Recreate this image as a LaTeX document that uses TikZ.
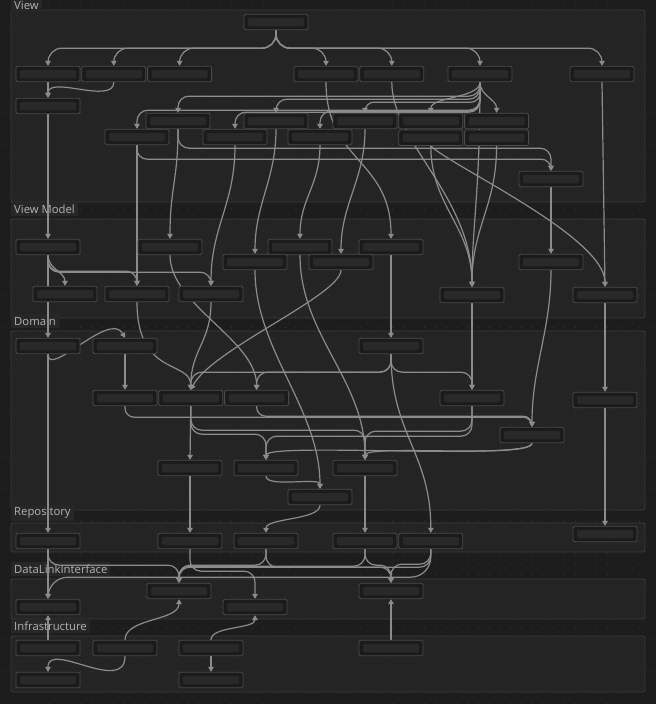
\documentclass[tikz,border=0pt]{standalone}
\usepackage{fontspec}
\newfontfamily\layerfont{Open Sans}
\usetikzlibrary{positioning, arrows.meta}

\definecolor{canvasbg}{HTML}{1D1D1D}
\definecolor{layerfill}{HTML}{242424}
\definecolor{layeredge}{HTML}{3C3C3C}
\definecolor{griddot}{HTML}{363636}
\definecolor{boxfill}{HTML}{1B1B1B}
\definecolor{boxedge}{HTML}{4A4A4A}
\definecolor{boxinner}{HTML}{292929}
\definecolor{linkgray}{HTML}{8C8C8C}
\definecolor{titlegray}{HTML}{B4B4B4}
\definecolor{titlefill}{HTML}{272727}

\pgfdeclarelayer{bg}
\pgfdeclarelayer{links}
\pgfsetlayers{bg,links,main}

\tikzset{
    >={Triangle[length=5pt,width=5.5pt]}, % small filled arrow heads
    box/.style={rectangle, draw=boxedge, fill=boxfill, line width=0.8pt, rounded corners=1.5pt,
        minimum width=64pt, minimum height=15.5pt, inner sep=0pt,
        path picture={\fill[boxinner] ([xshift=4pt,yshift=-3.5pt]path picture bounding box.north west)
            rectangle ([xshift=-4pt,yshift=3.5pt]path picture bounding box.south east);}}, % the blank class boxes
    layer/.style={fill=layerfill, draw=layeredge, line width=0.8pt, rounded corners=2pt}, % one panel per layer
    layer title/.style={anchor=west, fill=titlefill, text=titlegray, inner xsep=3pt, inner ysep=2.5pt,
        font=\layerfont\fontsize{11.3}{13}\selectfont},
    every edge/.style={draw=linkgray, line width=1.2pt, ->, rounded corners=11pt}, % all dependencies
    link/.style={draw=linkgray, line width=1.2pt, ->},
    bus/.style={to path={-- ++(0,#1) -| (\tikztotarget)}}, % down, across, down
    sbend/.style={to path={.. controls +(0,#1) and +(0,-#1) .. (\tikztotarget)}},
    upbend/.style={to path={.. controls +(0,-#1) and +(0,#1) .. (\tikztotarget)}},
    twobend/.style 2 args={to path={.. controls +(0,#1) and +(0,-#2) .. (\tikztotarget)}},
}

\begin{document}
\begin{tikzpicture}[x=1pt, y=-1pt]
    \useasboundingbox (0,0) rectangle (656,704);
    \begin{pgfonlayer}{bg}
        \fill[canvasbg] (0,0) rectangle (656,704);
        \foreach \ytop/\ybot in {10/202, 219/318, 331/510, 523/552, 579/619, 636/692}
            \draw[layer] (11,\ytop) rectangle (645,\ybot);
        \foreach \gx in {5.5,16.25,...,656}
            \foreach \gy in {5,15.75,...,704}
                \fill[griddot] (\gx,\gy) circle (0.65pt);
        \node[layer title] (tView) at (11,5) {View};
        \node[layer title] (tModel) at (11,209) {View Model};
        \node[layer title] (tDomain) at (11,321) {Domain};
        \node[layer title] (tRepo) at (11,513) {Repository};
        \node[layer title] (tLink) at (11,569) {DataLinkInterface};
        \node[layer title] (tInfra) at (11,626) {Infrastructure};
    \end{pgfonlayer}

    % View
    \node[box] (v0) at (276,22) {};
    \node[box] (v1) at (48,74) {};
    \node[box, right=1pt of v1] (v2) {};
    \node[box, right=1pt of v2] (v3) {};
    \node[box] (v4) at (326,74) {};
    \node[box, right=1pt of v4] (v5) {};
    \node[box] (v6) at (480,74) {};
    \node[box] (v7) at (602,74) {};
    \node[box] (v8) at (48,106) {};
    \node[box] (v9) at (178,121) {};
    \node[box] (v10) at (276,121) {};
    \node[box] (v11) at (365,121) {};
    \node[box, right=1pt of v11] (v12) {};
    \node[box, right=1pt of v12] (v13) {};
    \node[box] (v14) at (137,137) {};
    \node[box] (v15) at (235,137) {};
    \node[box] (v16) at (320,137) {};
    \node[box, below=0.5pt of v12] (v17) {};
    \node[box, right=1pt of v17] (v18) {};
    \node[box] (v19) at (551,179) {};

    % View Model
    \node[box] (m0) at (48,247) {};
    \node[box] (m1) at (170,247) {};
    \node[box] (m2) at (300,247) {};
    \node[box] (m3) at (391,247) {};
    \node[box] (m4) at (255,262) {};
    \node[box] (m5) at (341,262) {};
    \node[box] (m6) at (551,262) {};
    \node[box] (m7) at (65,294) {};
    \node[box] (m8) at (137,294) {};
    \node[box] (m9) at (211,294) {};
    \node[box] (m10) at (472,295) {};
    \node[box] (m11) at (605,295) {};

    % Domain
    \node[box] (d0) at (48,346) {};
    \node[box] (d1) at (125,346) {};
    \node[box] (d2) at (391,346) {};
    \node[box] (d3) at (125,398) {};
    \node[box, right=1pt of d3] (d4) {};
    \node[box, right=1pt of d4] (d5) {};
    \node[box] (d6) at (472,398) {};
    \node[box] (d7) at (605,400) {};
    \node[box] (d8) at (532,435) {};
    \node[box] (d9) at (190,468) {};
    \node[box] (d10) at (266,468) {};
    \node[box] (d11) at (365,468) {};
    \node[box] (d12) at (320,497) {};

    % Repository
    \node[box] (r0) at (48,541) {};
    \node[box] (r1) at (190,541) {};
    \node[box] (r2) at (266,541) {};
    \node[box] (r3) at (365,541) {};
    \node[box, right=1pt of r3] (r4) {};
    \node[box] (r5) at (605,534) {};

    % DataLinkInterface
    \node[box] (i0) at (48,607) {};
    \node[box] (i1) at (179,591) {};
    \node[box] (i2) at (255,607) {};
    \node[box] (i3) at (391,591) {};

    % Infrastructure
    \node[box] (f0) at (48,648) {};
    \node[box] (f1) at (125,648) {};
    \node[box] (f2) at (211,648) {};
    \node[box] (f3) at (391,648) {};
    \node[box] (f4) at (48,680) {};
    \node[box] (f5) at (211,680) {};

    \begin{pgfonlayer}{links}
        \foreach \t in {v1,v2,v3,v4,v5,v6,v7}
            \path (v0.south) edge[bus=18, rounded corners=14pt] (\t.north);
        \path
            (v1.south) edge (v8.north)
            (v2.south) edge[sbend=23] (v8.north)
            (v6.south) edge[bus=14] (v9.north)
            (v6.south) edge[bus=17] (v10.north)
            (v6.south) edge[bus=20, rounded corners=9pt] (v11.north)
            (v6.south) edge[sbend=16] (v12.north)
            (v6.south) edge[sbend=14] (v13.north)
            (v6.south) edge[bus=28] (v14.north)
            (v6.south) edge[bus=30] (v15.north)
            (v6.south) edge[bus=29] (v16.north)
            (v9.south) edge[bus=19] (v19.north)
            (v14.south) edge[bus=14, rounded corners=10pt] (v19.north);

        \path
            (v8.south) edge (m0.north)
            (v9.south) edge[sbend=50] (m1.north)
            (v10.south) edge[sbend=50] (m4.north)
            (v11.south) edge[sbend=50] (m5.north)
            (v16.south) edge[sbend=40] (m2.north)
            (v14.south) edge (m8.north)
            (v15.south) edge[sbend=60] (m9.north)
            (v4.south) edge[sbend=80] (m3.north)
            (v5.south) edge[twobend={60}{90}] (m10.north)
            (v6.south) edge[twobend={110}{60}] (m10.north)
            (v17.south) edge[sbend=60] (m10.north)
            (v18.south) edge[sbend=60] (m10.north)
            (v7.south) edge (m11.north)
            (v19.south) edge (m6.north);
        \draw[link] (v17.south) .. controls +(20,20) and +(0,-50) .. (m11.north);

        \path
            (m0.south) edge[sbend=14] (m7.north)
            (m0.south) edge[bus=16] (m8.north)
            (m0.south) edge[bus=17] (m9.north)
            (m0.south) edge (d0.north)
            (m3.south) edge (d2.north)
            (m10.south) edge (d6.north)
            (m11.south) edge (d7.north)
            (m6.south) edge[sbend=60] (d8.north)
            (m8.south) edge[twobend={75}{30}] (d4.north)
            (m9.south) edge[sbend=40] (d4.north)
            (m1.south) edge[sbend=50] (d5.north)
            (m4.south) edge[sbend=80] (d12.north)
            (m2.south) edge[sbend=80] (d11.north);
        \draw[link] (m5.south) .. controls +(0,25) and +(20,-40) .. (d4.north);

        \draw[link] (d0.south) .. controls +(0,25) and +(-15,-28) .. (d1.north);
        \path
            (d1.south) edge (d3.north)
            (d2.south) edge[bus=18] (d4.north)
            (d2.south) edge[bus=18] (d5.north)
            (d2.south) edge[bus=18] (d6.north)
            (d2.south) edge[sbend=80] (r4.north)
            (d3.south) edge[bus=11, rounded corners=9pt] (d8.north)
            (d5.south) edge[bus=10, rounded corners=9pt] (d8.north)
            (d4.south) edge (d9.north)
            (d4.south) edge[bus=28] (d10.north)
            (d4.south) edge[bus=24] (d11.north)
            (d6.south) edge[bus=30] (d10.north)
            (d6.south) edge[bus=25] (d11.north)
            (d8.south) edge[sbend=16] (d11.north)
            (d8.south) edge[sbend=18] (d10.north)
            (d10.south) edge[sbend=12] (d12.north)
            (d0.south) edge (r0.north)
            (d9.south) edge (r1.north)
            (d11.south) edge (r3.north)
            (d7.south) edge (r5.north)
            (d12.south) edge[sbend=15] (r2.north);

        \path
            (r0.south) edge (i0.north)
            (r0.south) edge[bus=16] (i1.north)
            (r1.south) edge[bus=22] (i2.north)
            (r2.south) edge[bus=16] (i1.north)
            (r2.south) edge[bus=18] (i3.north)
            (r3.south) edge[bus=17] (i1.north)
            (r3.south) edge[bus=16] (i3.north)
            (r4.south) edge[bus=18] (i1.north)
            (r4.south) edge[bus=15] (i3.north)
            (r4.south) edge[bus=28, rounded corners=20pt] (i0.north);

        \path
            (f0.north) edge (i0.south)
            (f1.north) edge[upbend=22] (i1.south)
            (f2.north) edge[upbend=14] (i2.south)
            (f3.north) edge (i3.south)
            (f1.south) edge[twobend={39}{32}] (f4.north)
            (f2.south) edge (f5.north);
    \end{pgfonlayer}
\end{tikzpicture}
\end{document}
